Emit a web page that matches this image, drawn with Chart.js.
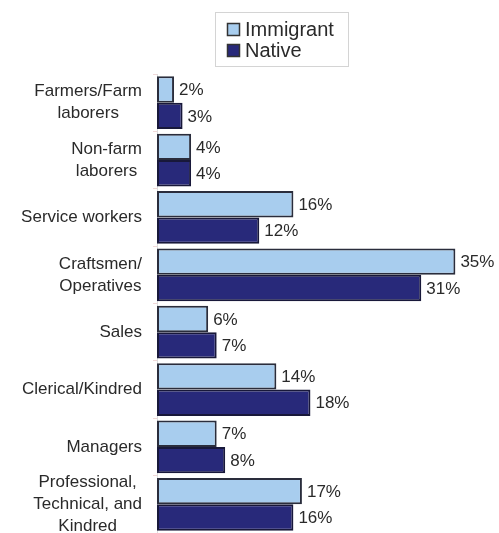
<!DOCTYPE html>
<html>
<head>
<meta charset="utf-8">
<script src="https://cdn.jsdelivr.net/npm/chart.js@4"></script>
<style>
  html, body { margin: 0; padding: 0; background: #fff; }
  #wrap { width: 499px; height: 533px; }
</style>
</head>
<body>
<div id="wrap"><canvas id="ocupaciones"></canvas></div>
<script>
// categorias (una linea por elemento) y porcentajes por grupo
const categorias = [
    ["Farmers/Farm", "laborers"],
    ["Non-farm", "laborers"],
    ["Service workers"],
    ["Craftsmen/", "Operatives"],
    ["Sales"],
    ["Clerical/Kindred"],
    ["Managers"],
    ["Professional,", "Technical, and", "Kindred"]
];
const inmigrantes = [2, 4, 16, 35, 6, 14, 7, 17];
const nativos = [3, 4, 12, 31, 7, 18, 8, 16];

const FUENTE = "Arial, 'Liberation Sans', sans-serif";
const TEXTO = "#2a2a2a";

// etiquetas de categoria: bloque centrado, alineado a la derecha del eje
const etiquetasEje = {
    id: "etiquetasEje",
    afterDraw(chart) {
        const ctx = chart.ctx;
        const y = chart.scales.y;
        const derecha = y.right - 15;
        ctx.save();
        ctx.font = "17px " + FUENTE;
        ctx.fillStyle = TEXTO;
        ctx.textAlign = "center";
        ctx.textBaseline = "middle";
        const alto = 22;
        categorias.forEach((lineas, i) => {
            const ancho = Math.max(...lineas.map(l => ctx.measureText(l).width));
            const cx = derecha - ancho / 2;
            const cy = y.getPixelForValue(i);
            const y0 = cy - (lineas.length - 1) * alto / 2;
            lineas.forEach((l, j) => ctx.fillText(l, cx, y0 + j * alto));
        });
        ctx.restore();
    }
};

// porcentaje al final de cada barra
const valores = {
    id: "valores",
    afterDatasetsDraw(chart) {
        const ctx = chart.ctx;
        ctx.save();
        ctx.font = "17px " + FUENTE;
        ctx.fillStyle = TEXTO;
        ctx.textAlign = "left";
        ctx.textBaseline = "middle";
        chart.data.datasets.forEach((ds, d) => {
            chart.getDatasetMeta(d).data.forEach((bar, i) => {
                ctx.fillText(ds.data[i] + "%", bar.x + 5, bar.y + 1);
            });
        });
        ctx.restore();
    }
};

// leyenda en recuadro, una serie por linea
const leyenda = {
    id: "leyenda",
    afterDraw(chart) {
        const ctx = chart.ctx;
        ctx.save();
        ctx.strokeStyle = "#d4d4d4";
        ctx.lineWidth = 1;
        ctx.strokeRect(215.5, 12.5, 133, 54);
        ctx.font = "20px " + FUENTE;
        ctx.textBaseline = "middle";
        chart.data.datasets.forEach((ds, d) => {
            const cy = 29 + d * 21;
            ctx.fillStyle = ds.backgroundColor;
            ctx.fillRect(227, cy - 6, 13, 13);
            ctx.strokeStyle = "#333";
            ctx.lineWidth = 1.5;
            ctx.strokeRect(227.5, cy - 5.5, 12, 12);
            ctx.fillStyle = TEXTO;
            ctx.fillText(ds.label, 245, cy + 1);
        });
        ctx.restore();
    }
};

new Chart(document.getElementById("ocupaciones").getContext("2d"), {
    type: "bar",
    data: {
        labels: categorias,
        datasets: [
            {
                label: "Immigrant",
                data: inmigrantes,
                backgroundColor: "#a8cdee",
                borderColor: "#2a2d3c",
                borderWidth: 2,
                borderSkipped: false
            },
            {
                label: "Native",
                data: nativos,
                backgroundColor: "#28297a",
                borderColor: "#18183a",
                borderWidth: 2,
                borderSkipped: false
            }
        ]
    },
    options: {
        indexAxis: "y",
        responsive: true,
        maintainAspectRatio: false,
        animation: false,
        layout: { padding: { top: 74, right: 1, bottom: 0, left: 0 } },
        plugins: {
            legend: { display: false },
            tooltip: { enabled: false }
        },
        datasets: {
            bar: { categoryPercentage: 0.92, barPercentage: 1 }
        },
        scales: {
            x: {
                display: false,
                min: 0,
                max: 40
            },
            y: {
                afterFit(scale) { scale.width = 157; },
                ticks: { display: false },
                grid: {
                    drawOnChartArea: false,
                    offset: true,
                    tickLength: 4,
                    color: "#f0d8d8"
                },
                border: { color: "#dddddd", width: 1 }
            }
        }
    },
    plugins: [etiquetasEje, valores, leyenda]
});
</script>
</body>
</html>
